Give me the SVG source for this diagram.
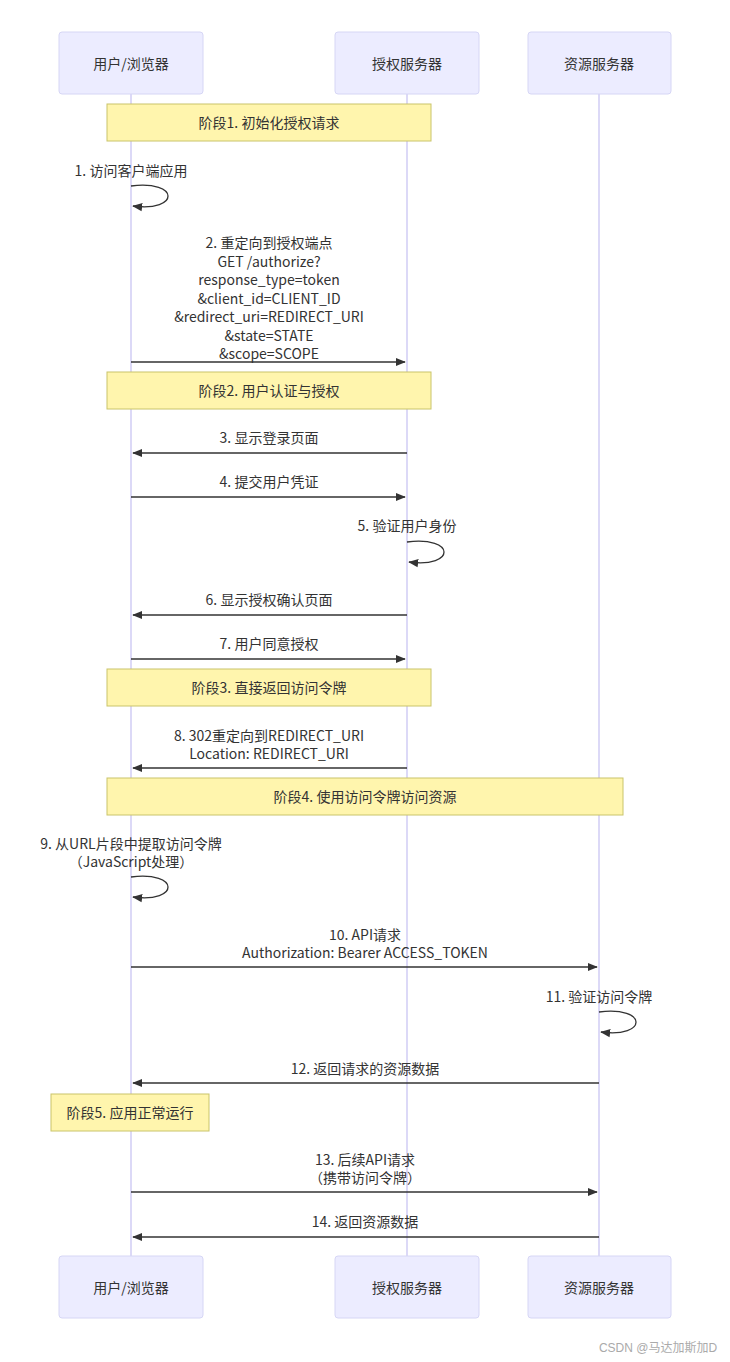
<svg xmlns="http://www.w3.org/2000/svg" width="730" height="1362" viewBox="0 0 730 1362">
<defs>
<marker id="ah" viewBox="0 0 12 12" refX="11" refY="6" markerWidth="10" markerHeight="10" orient="auto-start-reverse" markerUnits="userSpaceOnUse"><path d="M0,1 L12,6 L0,11 z" fill="#333"/></marker>
<style>
text{font-family:"Noto Sans CJK SC","Liberation Sans",sans-serif;font-size:14px;fill:#333;text-anchor:middle;dominant-baseline:central}
.actor{fill:#ECECFF;stroke:#d6d6f5;stroke-width:1}
.life{stroke:#d0cdf5;stroke-width:1.5}
.note{fill:#fff5ad;stroke:#c9c46a;stroke-width:1}
.msg{stroke:#333;stroke-width:1.3;fill:none;marker-end:url(#ah)}
.wm{font-size:12px;fill:#aaa;font-family:"Liberation Sans","Noto Sans CJK SC",sans-serif}
</style>
</defs>
<rect width="730" height="1362" fill="#fff"/>
<g id="lifelines">
<line class="life" x1="131" y1="94" x2="131" y2="1256"/>
<line class="life" x1="407" y1="94" x2="407" y2="1256"/>
<line class="life" x1="599" y1="94" x2="599" y2="1256"/>
</g>
<g id="actor-user"><rect class="actor" x="59" y="32" width="144" height="62" rx="3"/><text x="131" y="63">用户/浏览器</text></g>
<g id="actor-auth"><rect class="actor" x="335" y="32" width="144" height="62" rx="3"/><text x="407" y="63">授权服务器</text></g>
<g id="actor-res"><rect class="actor" x="528" y="32" width="143" height="62" rx="3"/><text x="599" y="63">资源服务器</text></g>
<g id="actor-user-b"><rect class="actor" x="59" y="1256" width="144" height="62" rx="3"/><text x="131" y="1287">用户/浏览器</text></g>
<g id="actor-auth-b"><rect class="actor" x="335" y="1256" width="144" height="62" rx="3"/><text x="407" y="1287">授权服务器</text></g>
<g id="actor-res-b"><rect class="actor" x="528" y="1256" width="143" height="62" rx="3"/><text x="599" y="1287">资源服务器</text></g>
<g id="note1"><rect class="note" x="107" y="104" width="324" height="37"/><text x="269" y="122">阶段1. 初始化授权请求</text></g>
<g id="note2"><rect class="note" x="107" y="372" width="324" height="37"/><text x="269" y="390">阶段2. 用户认证与授权</text></g>
<g id="note3"><rect class="note" x="107" y="669" width="324" height="37"/><text x="269" y="687">阶段3. 直接返回访问令牌</text></g>
<g id="note4"><rect class="note" x="107" y="778" width="516" height="37"/><text x="365" y="796">阶段4. 使用访问令牌访问资源</text></g>
<g id="note5"><rect class="note" x="51" y="1094" width="158" height="37"/><text x="130" y="1112">阶段5. 应用正常运行</text></g>
<g id="connectors">
<path class="msg" d="M131,186 C180,180 180,212 133,206"/>
<line class="msg" x1="131" y1="362" x2="405" y2="362"/>
<line class="msg" x1="407" y1="453" x2="133" y2="453"/>
<line class="msg" x1="131" y1="497" x2="405" y2="497"/>
<path class="msg" d="M407,542 C456,536 456,568 409,562"/>
<line class="msg" x1="407" y1="615" x2="133" y2="615"/>
<line class="msg" x1="131" y1="659" x2="405" y2="659"/>
<line class="msg" x1="407" y1="768" x2="133" y2="768"/>
<path class="msg" d="M131,877 C180,871 180,903 133,897"/>
<line class="msg" x1="131" y1="967" x2="597" y2="967"/>
<path class="msg" d="M599,1012 C648,1006 648,1038 601,1032"/>
<line class="msg" x1="599" y1="1083" x2="133" y2="1083"/>
<line class="msg" x1="131" y1="1192" x2="597" y2="1192"/>
<line class="msg" x1="599" y1="1237" x2="133" y2="1237"/>
</g>
<g id="labels">
<text x="131" y="170">1. 访问客户端应用</text>
<text x="269" y="242">2. 重定向到授权端点</text>
<text x="269" y="261">GET /authorize?</text>
<text x="269" y="279">response_type=token</text>
<text x="269" y="298">&amp;client_id=CLIENT_ID</text>
<text x="269" y="316">&amp;redirect_uri=REDIRECT_URI</text>
<text x="269" y="335">&amp;state=STATE</text>
<text x="269" y="353">&amp;scope=SCOPE</text>
<text x="269" y="437">3. 显示登录页面</text>
<text x="269" y="481">4. 提交用户凭证</text>
<text x="407" y="525">5. 验证用户身份</text>
<text x="269" y="599">6. 显示授权确认页面</text>
<text x="269" y="643">7. 用户同意授权</text>
<text x="269" y="735">8. 302重定向到REDIRECT_URI</text>
<text x="269" y="753">Location: REDIRECT_URI</text>
<text x="131" y="843">9. 从URL片段中提取访问令牌</text>
<text x="131" y="861">（JavaScript处理）</text>
<text x="365" y="934">10. API请求</text>
<text x="365" y="952">Authorization: Bearer ACCESS_TOKEN</text>
<text x="599" y="996">11. 验证访问令牌</text>
<text x="365" y="1068">12. 返回请求的资源数据</text>
<text x="365" y="1159">13. 后续API请求</text>
<text x="365" y="1177">（携带访问令牌）</text>
<text x="365" y="1221">14. 返回资源数据</text>
</g>
<text class="wm" x="658" y="1348">CSDN @马达加斯加D</text>
</svg>
